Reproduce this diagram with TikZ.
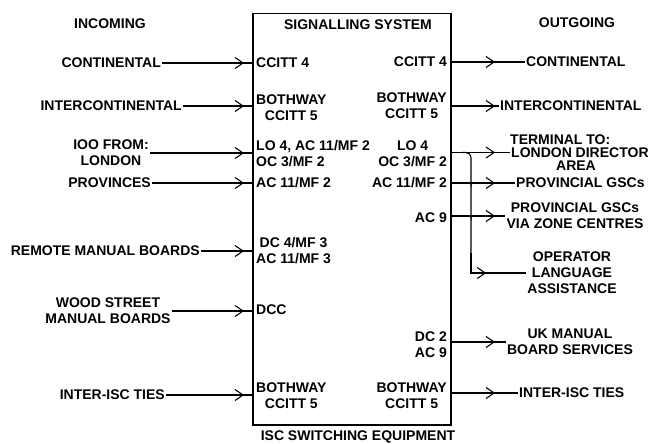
\documentclass[tikz,border=0pt]{standalone}
\usepackage{fontspec}
\setmainfont{Liberation Sans}
\usetikzlibrary{arrows.meta,decorations.markings,calc}
\tikzset{chev/.tip={Straight Barb[length=8pt,width=11pt,line width=1.1pt]}}

\begin{document}
\begin{tikzpicture}[x=1pt,y=-1pt,
  lbl/.style={font=\bfseries\fontsize{14}{16}\selectfont,inner sep=1pt,text=black},
  wire/.style={line width=1.1pt},
  inarrow/.style={wire,postaction={decorate},decoration={markings,
    mark=at position -9pt with {\arrow{chev}}}},
  outarrow/.style={wire,postaction={decorate},decoration={markings,
    mark=at position #1 with {\arrow{chev}}}},
  outarrow/.default=44pt]
  \useasboundingbox (0,0) rectangle (658,444);

  % the switching equipment
  \node[draw,line width=1.6pt,minimum width=198pt,minimum height=411.5pt,
    inner sep=0pt,outer sep=0pt] (isc) at (352,219.25) {};
  \node[lbl] (sigsys) at (358,25) {SIGNALLING SYSTEM};
  \node[lbl] (iscsw) at (358,437) {ISC SWITCHING EQUIPMENT};
  \node[lbl] (incoming) at (110,24) {INCOMING};
  \node[lbl] (outgoing) at (577,23) {OUTGOING};

  % incoming routes
  \node[lbl,anchor=east] (cont) at (162,63) {CONTINENTAL};
  \node[lbl,anchor=east] (icont) at (183,106) {INTERCONTINENTAL};
  \node[lbl,align=center] (ioo) at (111,153) {IOO FROM:\\LONDON};
  \node[lbl,anchor=east] (prov) at (152,183) {PROVINCES};
  \node[lbl,anchor=east] (rmb) at (201,251) {REMOTE MANUAL BOARDS};
  \node[lbl,align=center] (wood) at (108,311) {WOOD STREET\\MANUAL BOARDS};
  \node[lbl,anchor=east] (iiscin) at (166,395) {INTER-ISC TIES};

  % signalling, incoming side
  \node[lbl,anchor=west] (sinA) at (255,63) {CCITT 4};
  \node[lbl,anchor=west,align=center] (sinB) at (255,108) {BOTHWAY\\CCITT 5};
  \node[lbl,anchor=west,align=left] (sinC) at (255,153.5) {LO 4, AC 11/MF 2\\OC 3/MF 2};
  \node[lbl,anchor=west] (sinD) at (255,183) {AC 11/MF 2};
  \node[lbl,anchor=west,align=center] (sinE) at (255,250.5) {DC 4/MF 3\\AC 11/MF 3};
  \node[lbl,anchor=west] (sinF) at (255,310) {DCC};
  \node[lbl,anchor=west,align=center] (sinG) at (255,395.5) {BOTHWAY\\CCITT 5};

  % signalling, outgoing side
  \node[lbl,anchor=east] (soutA) at (448,62) {CCITT 4};
  \node[lbl,anchor=east,align=center] (soutB) at (448,106) {BOTHWAY\\CCITT 5};
  \node[lbl,anchor=east,align=center] (soutC) at (448,153.5) {LO 4\\OC 3/MF 2};
  \node[lbl,anchor=east] (soutD) at (448,183) {AC 11/MF 2};
  \node[lbl,anchor=east] (soutE) at (448,218) {AC 9};
  \node[lbl,anchor=east,align=right] (soutF) at (448,344.5) {DC 2\\AC 9};
  \node[lbl,anchor=east,align=center] (soutG) at (448,395.5) {BOTHWAY\\CCITT 5};

  % outgoing routes
  \node[lbl,anchor=west] (cont2) at (525,62) {CONTINENTAL};
  \node[lbl,anchor=west] (icont2) at (499,106) {INTERCONTINENTAL};
  \node[lbl,anchor=west] (term) at (509,140) {TERMINAL TO:};
  \node[lbl,anchor=west] (ldn) at (510,152.5) {LONDON DIRECTOR};
  \node[lbl] (area) at (576,165.5) {AREA};
  \node[lbl,anchor=west] (pgsc) at (515,183) {PROVINCIAL GSCs};
  \node[lbl,align=center] (pgvz) at (575,216) {PROVINCIAL GSCs\\VIA ZONE CENTRES};
  \node[lbl,align=center] (opl) at (572,273) {OPERATOR\\LANGUAGE\\ASSISTANCE};
  \node[lbl,align=center] (ukm) at (570,342) {UK MANUAL\\BOARD SERVICES};
  \node[lbl,anchor=west] (iisc2) at (518,393) {INTER-ISC TIES};

  \foreach \src in {cont,icont,ioo,prov,rmb,wood,iiscin}
    {\draw[inarrow] (\src.east) -- (\src.east -| isc.west);}
  \foreach \dst in {cont2,icont2,ldn,pgsc,pgvz,ukm,iisc2}
    {\draw[outarrow] (isc.east |- \dst.west) -- (\dst.west);}

  % trunk to operator language assistance
  \coordinate (tk) at (471,0);
  \draw[wire,rounded corners=5pt] ($(tk |- ldn.west)+(-9,0)$) -| (tk |- opl.west);
  \draw[outarrow=-40pt] ($(tk |- opl.west)+(0,-20)$) |- (opl.west);
  \foreach \j in {pgsc,pgvz}
    {\fill[shift={(tk |- \j.west)}] (-4.5,0) -- (0.5,0) -- (0.5,5)
       .. controls (0,1) .. cycle;}
\end{tikzpicture}
\end{document}
